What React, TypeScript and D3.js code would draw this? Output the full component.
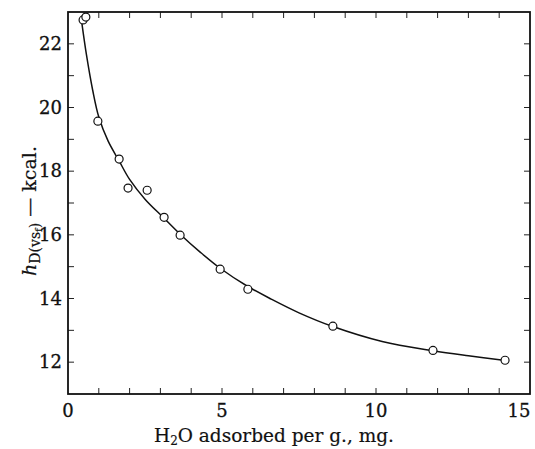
import React from "react";
import * as d3 from "d3";

const pointX = [0.49, 0.58, 0.97, 1.66, 1.95, 2.57, 3.12, 3.64, 4.94, 5.84, 8.6, 11.85, 14.19];
const pointY = [22.75, 22.84, 19.57, 18.38, 17.47, 17.4, 16.55, 15.99, 14.92, 14.29, 13.13, 12.37, 12.06];

const curveX = [0.45, 0.6, 0.8, 1.0, 1.3, 1.66, 2.0, 2.5, 3.1, 3.64, 4.3, 4.94, 5.8, 6.6, 7.5, 8.6, 10.2, 11.85, 13.0, 14.2];
const curveY = [22.65, 21.65, 20.55, 19.7, 18.95, 18.32, 17.74, 17.12, 16.54, 16.02, 15.45, 14.95, 14.4, 13.98, 13.55, 13.12, 12.65, 12.36, 12.2, 12.05];

const xTickLabels = [0, 5, 10, 15];
const yTickLabels = [12, 14, 16, 18, 20, 22];
const xMinorTicks = d3.range(1, 15, 1);
const yMinorTicks = d3.range(12, 23, 1);

const W = 535;
const H = 449;
const L = 68, R = 530, T = 12, B = 394;
const FONT = "'DejaVu Serif', serif";

export default function App() {
  const x = d3.scaleLinear().domain([0, 15]).range([L, R]);
  const y = d3.scaleLinear().domain([11, 23]).range([B, T]);
  const pts = curveX.map((v, i) => [v, curveY[i]] as [number, number]);
  const line = d3
    .line<[number, number]>()
    .x((d) => x(d[0]))
    .y((d) => y(d[1]))
    .curve(d3.curveCatmullRom.alpha(0.5));
  const tl = 6;
  return (
    <svg
      width={W}
      height={H}
      style={{ position: "absolute", left: 0, top: 0, background: "#fff" }}
    >
      <rect x={0} y={0} width={W} height={H} fill="#fff" />
      {xMinorTicks.map((t) => (
        <g key={"xt" + t}>
          <line x1={x(t)} x2={x(t)} y1={B} y2={B - tl} stroke="#222" strokeWidth={1} />
          <line x1={x(t)} x2={x(t)} y1={T} y2={T + tl} stroke="#222" strokeWidth={1} />
        </g>
      ))}
      {yMinorTicks.map((t) => (
        <g key={"yt" + t}>
          <line x1={L} x2={L + tl} y1={y(t)} y2={y(t)} stroke="#222" strokeWidth={1} />
          <line x1={R} x2={R - tl} y1={y(t)} y2={y(t)} stroke="#222" strokeWidth={1} />
        </g>
      ))}
      <rect x={L} y={T} width={R - L} height={B - T} fill="none" stroke="#111" strokeWidth={1.8} />
      {xTickLabels.map((t) => (
        <text
          key={"xl" + t}
          x={Math.min(x(t), W - 16)}
          y={B + 23}
          textAnchor="middle"
          fontFamily={FONT}
          fontSize={18}
          fill="#111"
          stroke="#111"
          strokeWidth={0.3}
        >
          {t}
        </text>
      ))}
      {yTickLabels.map((t) => (
        <text
          key={"yl" + t}
          x={L - 6}
          y={y(t) + 6}
          textAnchor="end"
          fontFamily={FONT}
          fontSize={18}
          fill="#111"
          stroke="#111"
          strokeWidth={0.3}
        >
          {t}
        </text>
      ))}
      <path d={line(pts) || ""} fill="none" stroke="#111" strokeWidth={1.5} />
      {pointX.map((v, i) => (
        <circle key={"p" + i} cx={x(v)} cy={y(pointY[i])} r={4} fill="#fff" stroke="#111" strokeWidth={1.2} />
      ))}
      <text x={274} y={442} textAnchor="middle" fontFamily={FONT} fontSize={18.5} fill="#111" stroke="#111" strokeWidth={0.2}>
        H<tspan fontSize={12} dy={3}>2</tspan>
        <tspan dy={-3}>O adsorbed per g., mg.</tspan>
      </text>
      <text
        transform={`translate(36, 211) rotate(-90)`}
        textAnchor="middle"
        fontFamily={FONT}
        fontSize={19}
        fill="#111"
        stroke="#111"
        strokeWidth={0.2}
      >
        <tspan fontStyle="italic">h</tspan>
        <tspan fontSize={14} dy={4}>D(vs</tspan>
        <tspan fontSize={10} dy={2}>f</tspan>
        <tspan fontSize={14} dy={-2}>)</tspan>
        <tspan dy={-4}>{"  — kcal."}</tspan>
      </text>
    </svg>
  );
}
